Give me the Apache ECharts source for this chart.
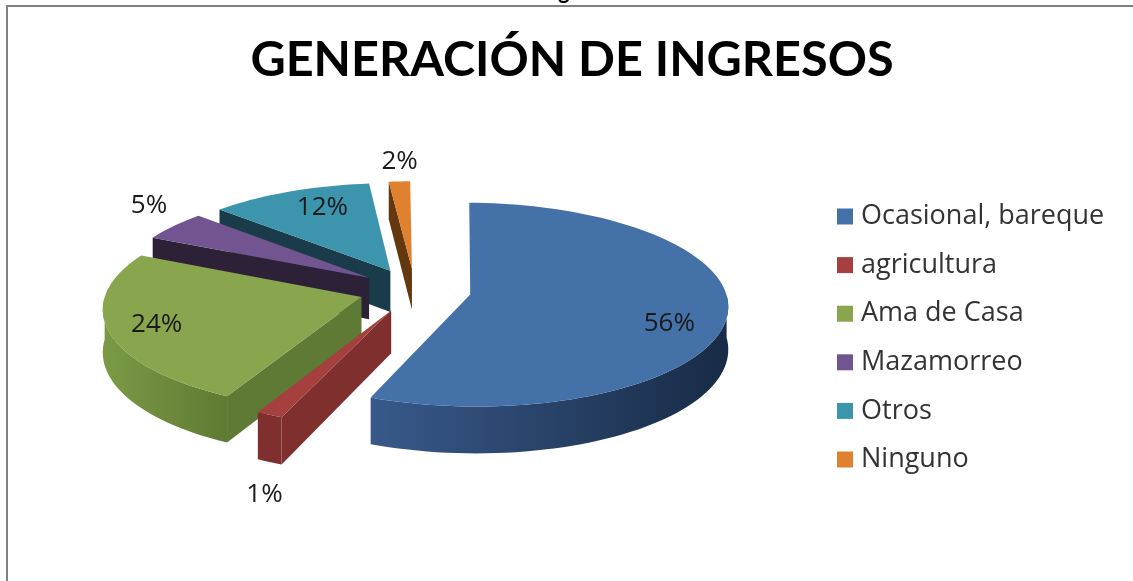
<!DOCTYPE html>
<html><head><meta charset="utf-8">
<style>html,body{margin:0;padding:0;background:#fff}#c{width:1133px;height:581px}</style>
<script src="https://cdn.jsdelivr.net/npm/echarts@6/dist/echarts.min.js"></script>
</head><body><div id="c"></div>
<script>
// Data
const categories = ['Ocasional, bareque','agricultura','Ama de Casa','Mazamorreo','Otros','Ninguno'];
const shares = [55.8, 1.49, 24.49, 4.8, 11.5, 1.5];
const labels = ['56%','1%','24%','5%','12%','2%'];

// Styling and projection
const topColors = ['#4471a8','#a5403e','#89a54e','#725590','#3d94ad','#e08130'];
const wallLight = ['#38598a','#7f2f2e','#7b9a45','#2d2138','#1a3c4a','#63380f'];
const wallDark  = ['#182b46','#7f2f2e','#5f7a33','#2d2138','#1a3c4a','#63380f'];
const radialWall= ['#1a2e4a','#7f2f2e','#5e7a34','#2d2138','#1a3c4a','#63380f'];
const labelRho  = [0.80,1.55,0.815,1.25,0.76,1.26];
const labelAngle= [110.5,194.9,251,310,337,357.4];
const START=1, CX=415, CY=290, RX=255, RY=100, PERSP=0.1, EXPLODE=0.22, DEPTH=42;

function project(u,v,z){
  const s=1/(1-PERSP*v);
  return [CX+RX*u*s, CY+RY*v*s+(z||0)*s];
}
const rad=d=>d*Math.PI/180;
function sliceGeometry(i){
  let start=START; for(let k=0;k<i;k++) start+=shares[k]*3.6;
  const end=start+shares[i]*3.6, mid=(start+end)/2;
  const ax=EXPLODE*Math.sin(rad(mid)), ay=-EXPLODE*Math.cos(rad(mid));
  const arc=[];
  const n=Math.max(4,Math.ceil((end-start)/2));
  for(let j=0;j<=n;j++){
    const d=start+(end-start)*j/n, t=rad(d);
    arc.push({u:ax+Math.sin(t),v:ay-Math.cos(t),front:d>=90&&d<=270});
  }
  return {ax,ay,arc,start,end};
}
function poly(points,fill,z2){
  return {type:'polygon',shape:{points},z2,style:{fill,stroke:null}};
}
function renderSlice(i){
  return function(params,api){
    const g=sliceGeometry(i);
    const base=Math.round(project(g.ax,g.ay)[1])*10;
    const topArc=g.arc.map(p=>project(p.u,p.v));
    const at=project(g.ax,g.ay), ab=project(g.ax,g.ay,DEPTH);
    const first=g.arc[0], last=g.arc[g.arc.length-1];
    const grad={type:'linear',x:0,y:0,x2:1,y2:0,colorStops:[{offset:0,color:wallLight[i]},{offset:1,color:wallDark[i]}]};
    const children=[];
    if(g.start>=180) children.push(poly([at,project(first.u,first.v),project(first.u,first.v,DEPTH),ab],radialWall[i],base));
    if(g.end<=180) children.push(poly([at,project(last.u,last.v),project(last.u,last.v,DEPTH),ab],radialWall[i],base+1));
    const front=g.arc.filter(p=>p.front);
    if(front.length>1){
      const upper=front.map(p=>project(p.u,p.v));
      const lower=front.map(p=>project(p.u,p.v,DEPTH)).reverse();
      children.push(poly(upper.concat(lower),grad,base+2));
    }
    children.push(poly([at].concat(topArc),topColors[i],base+3));
    const t=rad(labelAngle[i]);
    const lp=project(g.ax+labelRho[i]*Math.sin(t),g.ay-labelRho[i]*Math.cos(t));
    children.push({type:'text',z2:9000,style:{text:labels[i],x:lp[0],y:lp[1],align:'center',verticalAlign:'middle',
      font:'26px "Open Sans", sans-serif',fill:'#1a1a1a'}});
    return {type:'group',children};
  };
}

const chart=echarts.init(document.getElementById('c'),null,{renderer:'canvas'});
chart.setOption({
  animation:false,
  backgroundColor:'#fff',
  title:{text:'GENERACIÓN DE INGRESOS',left:567,top:31,textAlign:'center',
    textStyle:{fontFamily:'Lato, sans-serif',fontWeight:'bold',fontSize:48.6,color:'#000'}},
  legend:{orient:'vertical',left:837,top:203,padding:0,icon:'rect',itemWidth:16,itemHeight:16,itemGap:21.6,
    data:categories,selectedMode:false,
    textStyle:{fontFamily:'"Open Sans", sans-serif',fontSize:27,color:'#333',padding:[0,0,0,3]}},
  graphic:[
    {type:'polyline',shape:{points:[[1133,6],[7,6],[7,581]]},style:{stroke:'#808080',fill:null,lineWidth:2},silent:true},
    {type:'text',style:{text:'g',x:558,y:-19,font:'bold 22px Lato, sans-serif',fill:'#000'},silent:true}
  ],
  series:categories.map((name,i)=>({
    type:'custom',name,coordinateSystem:'none',silent:true,
    itemStyle:{color:topColors[i]},
    data:[{name,value:shares[i]}],
    renderItem:renderSlice(i)
  }))
});
</script></body></html>
